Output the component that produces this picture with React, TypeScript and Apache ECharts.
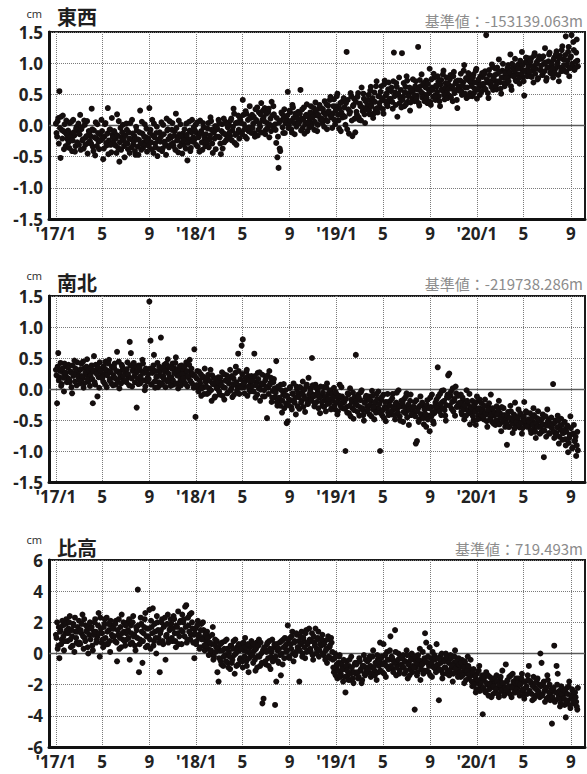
import React, { useEffect, useRef } from "react";
import * as echarts from "echarts";

// days are counted from 2017-01-01; set A observed every STEP_DAYS days from day 0,
// set B every STEP_DAYS days from day B_OFFSET_DAYS
const STEP_DAYS = 3;
const B_OFFSET_DAYS = 1.5;
const X_MIN_DAY = -18;
const X_MAX_DAY = 1376;
const X_TICK_DAYS = [0, 120, 243, 365, 485, 608, 730, 850, 973, 1095, 1216, 1339];
const X_TICK_LABELS = ["'17/1", "5", "9", "'18/1", "5", "9", "'19/1", "5", "9", "'20/1", "5", "9"];

// 東西 (cm)
const EW_A = [
  0.03, -0.18, 0.12, 0.55, -0.52, -0.07, 0.16, -0.38, -0.11, 0.08,
  -0.22, -0.27, 0.04, -0.13, -0.41, 0.09, -0.16, -0.33, -0.02, -0.09,
  -0.31, 0.17, -0.06, -0.24, -0.37, 0.01, -0.19, 0.07, -0.28, -0.12,
  -0.17, 0.27, -0.34, -0.08, -0.48, -0.21, 0.02, -0.26, -0.14, -0.23,
  -0.09, -0.54, -0.18, 0.04, -0.32, 0.28, -0.24, -0.06, -0.43, -0.15,
  -0.27, -0.12, -0.21, 0.18, -0.36, -0.58, -0.04, -0.19, 0.01, -0.33,
  -0.16, 0.03, -0.29, -0.11, -0.44, -0.22, 0.09, -0.31, -0.17, -0.47,
  -0.08, -0.34, -0.23, 0.24, -0.39, -0.13, -0.27, 0.02, -0.19, -0.42,
  -0.21, 0.28, -0.07, -0.38, -0.16, 0.03, -0.29, -0.12, -0.49, -0.24,
  -0.11, -0.18, -0.41, 0.01, -0.26, -0.32, 0.11, -0.06, -0.35, -0.17,
  -0.19, 0.04, -0.33, -0.09, 0.19, -0.24, -0.43, -0.14, 0.02, -0.28,
  -0.13, -0.31, -0.18, 0.03, -0.56, -0.22, -0.08, -0.36, 0.09, -0.19,
  -0.23, 0.01, -0.12, -0.34, -0.17, 0.08, -0.09, -0.39, -0.03, -0.21,
  -0.14, -0.29, 0.04, -0.22, 0.13, -0.07, -0.44, -0.11, -0.01, -0.18,
  -0.06, 0.09, -0.19, -0.46, 0.02, -0.12, -0.27, 0.06, -0.16, -0.03,
  0.01, -0.17, 0.11, -0.08, 0.27, -0.28, 0.04, -0.13, 0.16, -0.21,
  0.08, -0.11, 0.41, 0.02, -0.18, 0.19, -0.04, -0.09, 0.31, 0.12,
  0.17, 0.03, -0.12, 0.26, 0.07, -0.16, 0.21, -0.02, 0.36, 0.09,
  0.13, 0.28, -0.07, 0.04, 0.22, -0.19, 0.11, 0.38, -0.01, 0.18,
  0.02, -0.28, -0.51, -0.68, -0.37, 0.08, 0.19, -0.12, 0.26, 0.04,
  0.09, 0.54, 0.01, 0.21, -0.06, 0.33, 0.12, -0.14, 0.18, 0.03,
  0.22, 0.06, 0.57, 0.11, -0.04, 0.29, 0.02, 0.17, -0.09, 0.14,
  0.08, 0.31, 0.03, 0.19, -0.07, 0.37, 0.16, 0.01, 0.27, 0.12,
  0.28, 0.04, 0.21, 0.39, 0.09, -0.06, 0.32, 0.18, 0.46, 0.13,
  0.19, 0.42, 0.02, 0.31, 0.51, 0.08, 0.27, -0.09, 0.38, 0.16,
  0.29, 0.01, 1.18, 0.41, -0.13, 0.22, 0.47, -0.17, 0.33, 0.11,
  0.38, 0.17, 0.52, 0.09, 0.31, 0.61, 0.23, 0.43, 0.04, 0.28,
  0.33, 0.49, 0.18, 0.62, 0.37, 0.12, 0.53, 0.26, 0.71, 0.21,
  0.47, 0.29, 0.63, 0.41, 0.19, 0.72, 0.48, 0.33, 0.58, 0.39,
  0.42, 0.61, 0.27, 1.17, 0.53, 0.68, 0.14, 0.49, 0.36, 0.57,
  1.16, 0.46, 0.31, 0.62, 0.79, 0.38, 0.52, 0.24, 0.59, 0.43,
  0.57, 0.39, 0.71, 0.48, 1.26, 0.32, 0.63, 0.82, 0.51, 0.67,
  0.49, 0.72, 0.36, 0.58, 0.91, 0.33, 0.61, 0.46, 0.77, 0.41,
  0.62, 0.79, 0.47, 0.31, 0.73, 0.56, 0.88, 0.42, 0.68, 0.53,
  0.67, 0.48, 0.81, 0.59, 0.39, 0.86, 0.57, 0.71, 0.28, 0.63,
  0.58, 0.83, 0.49, 0.69, 0.97, 0.61, 0.44, 0.73, 0.78, 0.52,
  0.71, 0.47, 0.82, 0.59, 0.88, 0.43, 0.68, 0.62, 0.79, 0.54,
  0.78, 0.61, 0.87, 1.45, 0.69, 0.44, 0.81, 0.66, 0.98, 0.57,
  0.72, 0.91, 0.58, 0.83, 1.06, 0.69, 0.51, 0.88, 0.77, 0.63,
  0.87, 0.68, 0.97, 0.79, 1.14, 0.57, 0.92, 0.81, 1.07, 0.71,
  0.82, 0.98, 0.67, 0.91, 1.18, 0.78, 0.48, 1.01, 0.86, 1.08,
  0.97, 0.79, 1.08, 0.88, 0.69, 1.16, 0.91, 1.02, 0.76, 1.11,
  0.89, 1.07, 0.81, 0.99, 1.24, 0.72, 0.93, 1.03, 1.17, 0.84,
  0.98, 0.77, 1.09, 0.91, 1.19, 1.01, 0.71, 1.12, 0.87, 1.27,
  1.06, 0.88, 1.43, 0.97, 1.18, 0.79, 1.09, 1.45, 0.94, 1.21,
  0.92, 1.17, 1.04,
];
const EW_B = [
  -0.12, 0.07, -0.29, -0.04, 0.14, -0.21, -0.09, 0.02, -0.33, -0.15,
  -0.08, -0.36, -0.19, 0.06, -0.24, -0.11, -0.42, -0.05, -0.27, 0.03,
  -0.14, -0.39, -0.03, -0.22, 0.08, -0.31, -0.17, -0.45, -0.09, -0.25,
  -0.29, -0.06, -0.41, -0.19, 0.05, -0.33, -0.12, -0.38, -0.24, 0.09,
  -0.21, -0.37, 0.02, -0.28, -0.13, -0.46, -0.07, -0.31, 0.12, -0.19,
  -0.09, -0.32, -0.44, -0.16, 0.07, -0.27, -0.39, -0.11, -0.23, -0.51,
  -0.28, -0.07, -0.38, -0.21, 0.04, -0.35, -0.13, -0.26, -0.41, -0.02,
  -0.22, -0.47, -0.11, -0.29, 0.06, -0.36, -0.18, -0.31, -0.05, -0.25,
  -0.33, -0.12, -0.27, 0.09, -0.44, -0.19, -0.35, -0.02, -0.23, -0.38,
  -0.26, 0.05, -0.37, -0.14, -0.29, -0.47, -0.08, -0.22, 0.07, -0.31,
  -0.07, -0.28, -0.16, -0.39, -0.04, -0.21, 0.08, -0.33, -0.18, -0.45,
  -0.24, -0.06, -0.37, -0.15, -0.28, 0.06, -0.41, -0.11, -0.26, -0.03,
  -0.08, -0.31, 0.05, -0.19, -0.42, -0.12, -0.27, 0.04, -0.15, -0.33,
  -0.26, -0.05, -0.35, -0.16, 0.07, -0.29, -0.09, -0.21, -0.38, -0.02,
  -0.18, 0.04, -0.29, -0.09, -0.37, 0.11, -0.14, -0.24, 0.01, -0.21,
  -0.11, 0.08, -0.24, -0.02, 0.19, -0.15, -0.31, 0.05, -0.07, 0.13,
  0.04, -0.14, 0.17, -0.06, 0.23, -0.21, 0.09, -0.03, 0.14, -0.12,
  -0.04, 0.14, -0.18, 0.09, 0.29, -0.07, 0.03, 0.18, -0.11, 0.24,
  0.07, -0.14, 0.19, -0.04, 0.27, 0.01, -0.09, 0.16, 0.31, -0.06,
  -0.07, 0.12, -0.18, 0.05, -0.41, 0.21, -0.03, 0.14, -0.12, 0.09,
  0.16, -0.04, 0.24, 0.07, -0.11, 0.29, 0.04, 0.19, -0.02, 0.11,
  0.03, 0.19, -0.08, 0.26, 0.09, -0.13, 0.15, 0.34, 0.05, -0.03,
  0.21, -0.02, 0.13, 0.28, 0.06, 0.24, -0.09, 0.17, 0.33, 0.09,
  0.11, 0.26, -0.02, 0.18, 0.34, 0.07, 0.23, 0.41, 0.14, -0.04,
  0.31, 0.09, 0.24, 0.47, 0.17, -0.05, 0.36, 0.21, 0.13, 0.44,
  0.14, 0.36, -0.06, 0.26, 0.19, 0.52, 0.08, 0.31, 0.43, -0.11,
  0.22, 0.46, 0.13, 0.35, 0.08, 0.29, 0.51, 0.18, 0.39, 0.26,
  0.41, 0.24, 0.56, 0.31, 0.44, 0.19, 0.38, 0.63, 0.28, 0.47,
  0.36, 0.54, 0.44, 0.26, 0.66, 0.39, 0.51, 0.31, 0.69, 0.43,
  0.55, 0.38, 0.71, 0.47, 0.33, 0.62, 0.51, 0.77, 0.44, 0.29,
  0.41, 0.68, 0.53, 0.34, 0.72, 0.47, 0.61, 0.37, 0.55, 0.74,
  0.49, 0.63, 0.42, 0.58, 0.36, 0.73, 0.54, 0.45, 0.68, 0.39,
  0.61, 0.44, 0.67, 0.52, 0.38, 0.74, 0.57, 0.83, 0.48, 0.64,
  0.54, 0.71, 0.39, 0.66, 0.58, 0.82, 0.49, 0.61, 0.77, 0.44,
  0.59, 0.74, 0.45, 0.63, 0.79, 0.52, 0.68, 0.41, 0.72, 0.56,
  0.72, 0.55, 0.64, 0.88, 0.51, 0.76, 0.61, 0.84, 0.47, 0.69,
  0.63, 0.77, 0.52, 0.69, 0.91, 0.58, 0.74, 0.49, 0.66, 0.84,
  0.67, 0.83, 0.58, 0.74, 0.52, 0.89, 0.71, 0.62, 0.94, 0.76,
  0.81, 0.64, 0.93, 0.71, 0.86, 0.59, 0.77, 0.99, 0.68, 0.84,
  0.76, 0.92, 0.71, 0.85, 0.63, 0.99, 0.79, 0.88, 0.73, 0.95,
  0.91, 0.76, 1.04, 0.83, 0.97, 0.71, 0.88, 1.09, 0.79, 0.94,
  0.86, 1.03, 0.78, 0.95, 1.12, 0.83, 0.99, 0.74, 1.06, 0.89,
  0.96, 0.81, 1.11, 0.87, 1.01, 0.76, 0.93, 1.14, 0.85, 0.99,
  0.91, 1.06, 0.84, 1.14, 0.96, 0.81, 1.08, 0.93, 1.21, 0.88,
  0.97, 1.13, 0.86, 1.04, 1.26, 0.92, 1.11, 0.99, 1.34, 0.89,
  1.02, 1.38, 0.95,
];

// 南北 (cm)
const NS_A = [
  0.31, -0.23, 0.58, 0.19, 0.42, 0.08, 0.27, -0.04, 0.22, 0.37,
  0.18, 0.39, 0.11, 0.28, -0.07, 0.21, 0.46, 0.33, 0.06, 0.24,
  0.29, 0.09, 0.41, 0.17, 0.02, 0.34, 0.23, 0.48, 0.12, 0.26,
  0.21, 0.38, -0.23, 0.53, 0.07, 0.31, -0.12, 0.19, 0.43, 0.27,
  0.33, 0.12, 0.24, 0.44, 0.03, 0.29, 0.47, 0.16, 0.09, 0.36,
  0.22, 0.41, 0.07, 0.6, 0.28, 0.01, 0.18, 0.39, 0.31, 0.13,
  0.27, 0.11, 0.43, 0.19, 0.76, 0.58, 0.04, 0.32, 0.21, 0.37,
  -0.3, 0.17, 0.38, 0.09, 0.29, 0.47, 0.14, -0.02, 0.33, 0.12,
  0.24, 1.41, 0.78, 0.08, 0.31, 0.55, 0.02, 0.19, 0.42, 0.11,
  0.28, 0.83, 0.09, 0.21, 0.39, 0.03, 0.32, 0.48, 0.17, 0.13,
  0.19, 0.41, 0.07, 0.33, 0.51, 0.22, 0.01, 0.29, 0.14, 0.38,
  0.31, 0.12, 0.24, 0.43, 0.04, 0.18, 0.47, 0.27, 0.09, 0.22,
  0.64, -0.45, 0.17, 0.02, 0.28, 0.09, -0.11, 0.21, 0.03, 0.33,
  0.12, -0.08, 0.23, 0.01, 0.31, -0.19, 0.08, 0.18, -0.12, 0.04,
  0.02, 0.19, -0.09, 0.11, 0.27, 0.03, -0.17, 0.14, 0.22, -0.06,
  0.09, 0.31, 0.01, -0.13, 0.17, 0.07, 0.36, -0.03, 0.57, -0.08,
  0.16, 0.7, 0.8, 0.03, 0.12, 0.28, -0.11, 0.21, -0.02, 0.09,
  0.04, 0.18, 0.57, -0.14, 0.11, 0.26, 0.01, -0.19, 0.07, 0.23,
  0.08, -0.12, 0.17, -0.47, 0.02, 0.29, 0.1, -0.21, -0.03, 0.16,
  -0.13, 0.45, -0.27, 0.01, -0.18, 0.07, -0.38, -0.09, -0.31, -0.02,
  -0.55, -0.52, -0.17, 0.03, -0.29, -0.08, 0.09, -0.22, -0.41, -0.01,
  -0.07, -0.32, 0.02, -0.19, 0.12, -0.11, -0.37, 0.04, -0.24, 0.18,
  -0.16, 0.01, 0.5, -0.09, -0.28, 0.07, -0.21, -0.03, -0.13, -0.39,
  -0.11, -0.27, 0.03, -0.18, -0.36, 0.09, -0.08, -0.23, -0.02, -0.31,
  -0.19, 0.02, -0.33, -0.08, -0.41, -0.16, 0.07, -0.28, -0.12, -0.22,
  -0.21, -1.0, -0.29, -0.07, -0.39, 0.01, -0.17, -0.31, -0.48, -0.13,
  0.55, -0.26, -0.09, -0.43, -0.18, -0.02, -0.34, -0.51, -0.21, -0.11,
  -0.28, -0.12, -0.41, -0.19, -0.03, -0.33, -0.49, -0.23, -0.08, -0.31,
  -0.32, -1.0, -0.18, -0.43, -0.09, -0.29, -0.52, -0.21, -0.38, -0.27,
  -0.19, -0.41, -0.08, -0.33, -0.49, -0.22, -0.31, -0.02, -0.44, -0.28,
  -0.27, -0.53, -0.16, -0.39, -0.07, -0.34, -0.58, -0.19, -0.42, -0.29,
  -0.38, -0.21, -0.88, -0.84, -0.31, -0.49, -0.12, -0.41, -0.27, -0.57,
  -0.33, -0.61, -0.18, -0.43, -0.68, -0.29, -0.09, -0.52, -0.39, -0.22,
  -0.17, 0.35, -0.31, -0.08, -0.42, -0.21, -0.02, -0.34, -0.51, -0.13,
  0.22, 0.25, -0.11, -0.32, 0.01, -0.19, -0.43, -0.07, -0.28, -0.23,
  -0.29, -0.09, -0.41, -0.18, -0.49, -0.33, -0.02, -0.24, -0.39, -0.57,
  -0.38, -0.19, -0.51, -0.28, -0.58, -0.12, -0.42, -0.31, -0.47, -0.23,
  -0.32, -0.49, -0.17, -0.41, -0.61, -0.29, -0.38, -0.09, -0.53, -0.36,
  -0.43, -0.58, -0.28, -0.51, -0.19, -0.39, -0.68, -0.47, -0.31, -0.44,
  -0.49, -0.9, -0.37, -0.61, -0.27, -0.52, -0.71, -0.41, -0.22, -0.58,
  -0.51, -0.33, -0.62, -0.41, -0.72, -0.48, -0.21, -0.57, -0.38, -0.53,
  -0.59, -0.39, -0.71, -0.52, -0.31, -0.63, -0.79, -0.47, -0.36, -0.61,
  -0.52, -0.69, -0.41, -1.1, -0.58, -0.77, -0.33, -0.49, -0.72, -0.61,
  -0.63, 0.08, -0.79, -0.51, -0.71, -0.43, -0.88, -0.59, -0.48, -0.82,
  -0.71, -0.53, -0.91, -0.62, -1.02, -0.79, -0.44, -0.73, -0.94, -0.58,
  -0.83, -1.08, -0.69,
];
const NS_B = [
  0.22, 0.36, 0.14, 0.29, 0.05, 0.33, 0.18, 0.41, 0.26, 0.11,
  0.34, 0.15, 0.27, 0.03, 0.38, 0.24, 0.12, 0.31, 0.43, 0.19,
  0.14, 0.32, 0.21, 0.44, 0.09, 0.27, 0.36, 0.16, 0.31, 0.05,
  0.33, 0.16, 0.28, 0.11, 0.39, 0.24, 0.35, 0.02, 0.29, 0.18,
  0.19, 0.37, 0.08, 0.31, 0.22, 0.41, 0.14, 0.27, 0.35, 0.06,
  0.34, 0.17, 0.29, 0.12, 0.44, 0.24, 0.09, 0.36, 0.21, 0.31,
  0.13, 0.32, 0.24, 0.06, 0.38, 0.17, 0.29, 0.42, 0.11, 0.26,
  0.29, 0.08, 0.35, 0.21, 0.13, 0.41, 0.26, 0.04, 0.31, 0.18,
  0.16, 0.33, 0.07, 0.26, 0.38, 0.12, 0.29, 0.21, 0.03, 0.36,
  0.21, 0.07, 0.34, 0.16, 0.28, 0.41, 0.12, 0.25, 0.36, 0.05,
  0.33, 0.14, 0.26, 0.42, 0.09, 0.31, 0.21, 0.37, 0.06, 0.24,
  0.17, 0.36, 0.08, 0.29, 0.21, 0.39, 0.13, 0.33, 0.24, 0.02,
  0.21, 0.06, 0.29, -0.04, 0.14, 0.24, 0.01, 0.19, -0.08, 0.12,
  0.04, 0.19, -0.06, 0.13, -0.02, 0.22, 0.09, -0.14, 0.16, 0.01,
  0.11, -0.04, 0.18, 0.06, -0.11, 0.24, 0.02, 0.13, -0.07, 0.19,
  0.17, -0.02, 0.21, 0.08, -0.09, 0.26, 0.11, 0.02, 0.29, 0.05,
  0.02, 0.24, 0.09, -0.07, 0.18, 0.31, 0.04, 0.14, -0.04, 0.21,
  0.13, -0.04, 0.21, 0.06, -0.09, 0.16, 0.27, -0.01, 0.09, -0.12,
  -0.02, 0.14, 0.03, 0.22, -0.08, 0.07, 0.18, -0.14, 0.11, 0.01,
  -0.06, -0.21, 0.04, -0.14, -0.27, -0.02, -0.19, 0.08, -0.11, -0.24,
  -0.11, -0.26, 0.01, -0.18, -0.33, -0.07, -0.21, -0.14, 0.04, -0.28,
  -0.13, 0.03, -0.22, -0.06, -0.29, -0.01, -0.16, 0.07, -0.24, -0.09,
  -0.04, -0.19, 0.06, -0.12, -0.24, 0.02, -0.08, -0.31, -0.14, 0.04,
  -0.21, -0.06, -0.29, -0.13, 0.02, -0.24, -0.16, -0.04, -0.33, -0.09,
  -0.14, -0.27, -0.05, -0.22, -0.36, -0.11, -0.24, 0.03, -0.31, -0.17,
  -0.32, -0.16, -0.38, -0.09, -0.27, -0.44, -0.21, -0.06, -0.34, -0.24,
  -0.19, -0.37, -0.13, -0.29, -0.05, -0.31, -0.42, -0.22, -0.14, -0.36,
  -0.33, -0.17, -0.26, -0.44, -0.11, -0.29, -0.21, -0.38, -0.16, -0.04,
  -0.24, -0.39, -0.13, -0.34, -0.47, -0.21, -0.31, -0.08, -0.42, -0.27,
  -0.36, -0.15, -0.29, -0.42, -0.24, -0.06, -0.38, -0.27, -0.51, -0.19,
  -0.22, -0.37, -0.29, -0.12, -0.46, -0.25, -0.33, -0.09, -0.41, -0.31,
  -0.29, -0.44, -0.18, -0.36, -0.53, -0.27, -0.41, -0.22, -0.47, -0.33,
  -0.41, -0.26, -0.49, -0.31, -0.14, -0.44, -0.37, -0.56, -0.28, -0.35,
  -0.29, -0.12, -0.36, -0.24, -0.03, -0.31, -0.19, -0.43, -0.26, -0.09,
  -0.14, -0.27, -0.04, -0.21, -0.36, -0.16, 0.04, -0.29, -0.11, -0.24,
  -0.22, -0.37, -0.14, -0.31, -0.26, -0.43, -0.19, -0.34, -0.08, -0.29,
  -0.31, -0.44, -0.26, -0.36, -0.21, -0.49, -0.33, -0.17, -0.41, -0.37,
  -0.44, -0.27, -0.39, -0.52, -0.34, -0.23, -0.47, -0.41, -0.31, -0.56,
  -0.38, -0.51, -0.41, -0.34, -0.57, -0.46, -0.29, -0.53, -0.42, -0.61,
  -0.55, -0.43, -0.61, -0.47, -0.36, -0.56, -0.49, -0.64, -0.44, -0.53,
  -0.46, -0.58, -0.39, -0.54, -0.63, -0.44, -0.51, -0.36, -0.61, -0.49,
  -0.53, -0.66, -0.47, -0.58, -0.42, -0.69, -0.55, -0.61, -0.49, -0.72,
  -0.61, -0.48, -0.57, -0.67, -0.44, -0.59, -0.53, -0.71, -0.56, -0.46,
  -0.57, -0.69, -0.54, -0.74, -0.62, -0.51, -0.77, -0.66, -0.58, -0.71,
  -0.66, -0.81, -0.69, -0.59, -0.87, -0.74, -0.63, -0.96, -0.72, -0.84,
  -0.77, -0.91, -0.99,
];

// 比高 (cm)
const UD_A = [
  1.2, 2.0, 0.5, -0.3, 1.5, 0.9, 1.8, 0.2, 1.3, 2.2,
  0.8, 1.6, 2.4, 0.4, 1.1, 1.9, 0.1, 1.4, 0.7, 1.7,
  2.1, 0.6, 1.3, 2.5, 0.3, 1.0, 1.8, 1.5, 0.0, 1.2,
  0.9, 1.7, 0.2, 1.4, 2.2, 0.7, 1.1, 2.6, -0.2, 1.6,
  1.3, 0.4, 1.9, 1.0, 2.3, 0.6, 1.5, 0.1, 1.8, 1.1,
  1.6, 0.8, 2.1, -0.5, 1.2, 0.3, 1.7, 2.5, 0.9, 1.4,
  0.5, 1.3, 2.0, 1.0, -0.4, 1.8, 0.7, 2.4, 1.2, 0.2,
  1.5, 4.1, -1.2, 0.9, 1.9, -0.6, 1.3, 2.2, 0.4, 1.6,
  1.1, 2.8, 0.3, 1.7, 2.9, 0.8, 1.4, 0.0, 2.0, 1.0,
  -1.2, 1.5, 2.2, 0.6, 1.8, -0.4, 1.2, 2.5, 0.9, 1.6,
  1.9, 0.8, 2.4, 1.3, 0.4, 1.7, 2.7, 1.1, 2.1, 0.6,
  1.4, 2.2, 3.0, 3.1, 0.9, 1.8, 2.5, 1.2, 2.0, 0.7,
  -0.3, 1.6, 0.8, 2.1, 1.2, 0.4, 1.9, 1.0, 1.5, 0.2,
  0.8, 1.4, 0.3, 1.1, 0.0, 0.6, 1.7, -0.2, 0.9, 0.4,
  -1.2, -1.8, 0.2, -0.5, 0.7, -0.8, 0.3, -0.1, 0.9, -0.6,
  0.1, -1.0, 0.5, -0.4, 0.8, -1.3, 0.0, 0.4, -0.7, 0.2,
  -0.3, 0.6, -0.9, 0.2, 1.0, -0.5, 0.1, -1.2, 0.4, -0.1,
  0.5, -0.6, 0.2, -1.1, 0.7, -0.2, 0.9, -0.8, 0.0, -3.2,
  -2.9, 0.3, -0.7, 0.6, -0.3, 0.8, -1.0, 0.1, -0.5, 0.4,
  -3.3, -1.8, 0.2, -0.6, 0.7, -1.4, 0.0, 0.9, -0.3, 0.5,
  0.6, 1.8, -0.2, 1.0, 0.3, 1.4, -0.5, 0.8, 0.1, 1.2,
  0.4, -1.8, 1.1, 1.4, 0.0, 0.8, -0.3, 1.5, 0.6, 0.2,
  0.9, 0.1, 1.3, -0.4, 0.7, 1.6, 0.3, 1.0, -0.2, 0.6,
  0.5, 1.2, -0.1, 0.8, 0.2, -0.6, 1.1, 0.4, -0.3, 0.7,
  -0.4, -1.2, 0.0, -0.9, -1.6, -0.6, -0.1, -1.3, -0.8, -1.8,
  -1.0, -2.5, -0.5, -1.4, -0.8, -1.7, -0.2, -1.2, -1.9, -0.7,
  -1.3, -0.6, -1.6, -0.3, -1.1, -1.9, -0.8, -0.1, -1.4, -0.9,
  -0.5, -1.2, -0.2, -1.5, -0.9, 0.2, -1.1, -0.6, -1.7, -0.4,
  -0.8, 0.7, -0.3, -1.2, 0.6, -0.6, -1.5, 0.1, -0.9, -0.4,
  1.1, -0.2, -1.0, -0.5, 1.5, -1.4, -0.7, 0.0, -1.1, -0.3,
  -0.8, -0.1, -1.3, -0.5, 0.2, -1.6, -0.6, -1.0, -0.2, -1.2,
  -0.4, -3.6, -0.9, -1.4, -0.1, -0.7, -1.7, -0.5, 0.1, -1.1,
  1.3, 0.7, -0.6, -1.2, 0.4, -0.3, -1.5, -0.8, -0.1, -1.0,
  0.6, -0.7, -3.0, -0.2, -1.1, -1.6, -0.4, -0.9, 0.0, -1.3,
  -0.5, -1.4, -0.1, -0.9, -1.8, -0.6, 0.2, -1.2, -0.8, -0.3,
  -0.9, -1.5, -0.4, -1.2, -1.9, -0.7, -1.3, -0.2, -1.6, -1.0,
  -1.4, -2.1, -1.0, -1.8, -2.5, -1.3, -1.9, -0.8, -2.2, -1.6,
  -3.9, -1.7, -2.4, -1.2, -2.0, -2.7, -1.5, -2.2, -1.8, -2.6,
  -1.9, -2.5, -1.4, -2.2, -2.8, -1.7, -2.3, -1.1, -2.1, -2.6,
  -0.7, -1.8, -2.4, -1.5, -2.1, -2.8, -1.3, -2.0, -2.5, -1.6,
  -2.2, -1.6, -2.7, -1.9, -1.3, -2.4, -2.9, -1.8, -2.1, -1.4,
  -0.8, -2.5, -1.9, -3.0, -1.5, -2.2, -2.7, -1.7, -2.4, -2.0,
  0.0, -0.6, -2.6, -1.8, -3.1, -2.2, -1.4, -2.8, -2.0, -2.5,
  -4.5, -2.4, 0.5, -3.0, -0.8, -1.3, -2.7, -3.4, -2.1, -2.9,
  -2.6, -3.3, -4.1, -2.2, -3.0, -1.8, -3.5, -2.8, -2.4, -3.2,
  -2.5, -3.1, -3.6,
];
const UD_B = [
  1.0, 0.3, 1.7, 1.4, 0.6, 2.1, 1.1, 0.8, 1.9, 1.5,
  1.3, 2.0, 0.9, 1.5, 0.5, 1.8, 2.3, 1.0, 1.4, 0.6,
  0.7, 1.5, 1.9, 1.1, 2.2, 0.8, 1.4, 0.4, 1.7, 2.0,
  1.6, 0.5, 1.2, 2.0, 1.4, 0.9, 1.8, 1.3, 2.3, 0.7,
  0.9, 1.7, 2.2, 0.6, 1.4, 1.9, 0.8, 2.1, 1.2, 1.6,
  1.1, 1.9, 0.7, 1.5, 2.2, 1.0, 0.4, 1.3, 2.0, 0.8,
  1.8, 0.9, 1.5, 2.2, 0.6, 1.3, 2.0, 1.1, 0.5, 1.7,
  1.0, 1.8, 0.6, 2.3, 1.4, 0.8, 1.7, 2.6, 1.1, 0.5,
  1.6, 0.9, 2.1, 1.3, 0.5, 1.9, 1.0, 2.4, 1.5, 0.7,
  1.3, 2.0, 0.8, 1.7, 2.3, 1.1, 1.9, 0.7, 1.5, 2.2,
  1.0, 1.6, 2.2, 0.8, 1.8, 1.3, 0.6, 2.0, 1.5, 2.5,
  2.0, 1.1, 1.7, 0.7, 2.3, 1.4, 0.9, 2.6, 1.6, 1.2,
  1.3, 0.6, 1.8, 1.1, 0.3, 1.5, 0.9, 2.0, 0.5, 1.2,
  0.5, 1.0, -0.1, 0.7, 0.2, 1.2, -0.4, 0.6, 0.1, 0.8,
  0.4, -0.3, 0.6, -0.7, 0.2, -0.2, 0.8, -0.5, 0.3, -0.9,
  -0.2, 0.5, -0.6, 0.3, -0.1, 0.9, -0.8, 0.2, 0.6, -0.4,
  0.3, -0.5, 0.7, -0.2, 0.4, -0.8, 0.6, -0.3, 0.1, 0.8,
  -0.1, 0.6, -0.4, 0.3, -0.9, 0.5, -0.2, 0.7, -0.6, 0.2,
  0.4, -0.5, 0.1, 0.7, -0.8, 0.3, -0.2, 0.9, -0.4, 0.6,
  -0.2, 0.6, -0.5, 0.3, -0.1, 0.8, -0.7, 0.4, 1.0, 0.1,
  0.2, 0.9, -0.3, 0.6, 1.1, 0.0, 0.7, -0.1, 1.3, 0.4,
  0.8, 0.2, 0.6, -0.2, 1.0, 0.4, 1.3, 0.1, 0.7, 1.6,
  0.3, 0.8, -0.1, 1.1, 0.5, 0.0, 0.9, 1.4, 0.2, 0.6,
  0.9, 0.0, 0.6, -0.4, 0.3, 0.9, -0.2, 0.5, 1.0, 0.1,
  -0.9, -0.3, -1.4, -0.7, -1.1, -0.2, -1.5, -0.6, -1.0, -0.4,
  -1.5, -0.8, -1.1, -1.7, -0.4, -1.3, -0.9, -1.6, -1.2, -0.6,
  -0.7, -1.2, -1.5, -0.5, -1.0, -1.7, -0.8, -1.3, -0.4, -1.1,
  -1.0, -0.4, -0.8, -1.3, -0.2, -0.9, -1.4, -0.6, -0.1, -1.2,
  -0.5, -1.1, -0.2, -0.7, -1.3, -0.1, -0.8, -0.4, -1.0, 0.2,
  -0.8, -0.3, -1.2, -0.6, 0.1, -0.9, -0.4, -1.3, -0.2, -0.7,
  -0.3, -0.9, -0.5, -1.1, -0.1, -0.7, -1.4, -0.4, 0.0, -0.8,
  -0.9, -0.2, -0.6, -1.2, -0.4, 0.3, -1.0, -0.7, -1.3, -0.3,
  -0.5, -1.1, -0.2, -0.8, -1.4, -0.6, 0.1, -0.9, -0.4, -1.2,
  -0.8, -0.3, -1.0, -0.6, 0.0, -1.3, -0.5, -0.9, -0.2, -1.1,
  -0.6, -1.1, -0.3, -0.8, -1.3, -0.2, -1.0, -0.5, -1.5, -0.7,
  -1.2, -0.6, -1.4, -0.9, -0.5, -1.7, -1.1, -0.8, -1.3, -0.4,
  -1.8, -1.2, -2.0, -1.5, -2.3, -1.7, -1.1, -2.4, -1.9, -1.4,
  -2.2, -1.5, -2.5, -1.9, -1.4, -2.3, -2.0, -2.8, -1.6, -2.1,
  -1.6, -2.3, -1.8, -2.6, -2.0, -1.5, -2.4, -1.9, -2.7, -2.2,
  -2.3, -1.7, -2.1, -2.6, -1.4, -2.2, -1.8, -2.5, -1.9, -2.3,
  -1.9, -2.5, -2.0, -1.6, -2.3, -2.7, -1.8, -2.2, -2.6, -1.7,
  -2.4, -1.8, -2.6, -2.1, -2.9, -1.9, -2.3, -1.6, -2.5, -2.8,
  -2.1, -2.7, -1.9, -2.4, -2.2, -2.9, -1.7, -2.5, -3.0, -2.3,
  -2.8, -2.2, -3.1, -2.5, -2.0, -2.9, -2.4, -3.2, -2.6, -2.3,
  -2.9, -2.4, -3.1, -2.6, -2.1, -3.3, -2.7, -2.3, -3.0, -2.5,
  -2.8, -3.4, -2.2,
];

const TITLES = ["東西", "南北", "比高"];
const REF_TEXTS = ["基準値：-153139.063m", "基準値：-219738.286m", "基準値：719.493m"];
const Y_MIN = [-1.5, -1.5, -6];
const Y_MAX = [1.5, 1.5, 6];
const Y_STEP = [0.5, 0.5, 2];
const Y_DECIMALS = [1, 1, 0];
const SERIES_A = [EW_A, NS_A, UD_A];
const SERIES_B = [EW_B, NS_B, UD_B];

// layout (px)
const GRID_LEFT = 49;
const GRID_RIGHT = 2;
const GRID_TOPS = [32, 296, 560];
const GRID_HEIGHTS = [187, 186, 187];
const TITLE_Y = [16, 282, 547];
const CM_Y = [13, 275, 539];
const REF_Y = [20, 283, 548];

const DIGIT_FONT = '"Noto Sans", "DejaVu Sans", sans-serif';
const CJK_FONT = '"Noto Sans CJK JP", "Noto Sans CJK SC", sans-serif';

export default function App() {
  const ref = useRef<HTMLDivElement>(null);

  useEffect(() => {
    if (!ref.current) return;
    const chart = echarts.init(ref.current, undefined, { renderer: "svg" });
    const idx = [0, 1, 2];

    const graphics: any[] = [];
    idx.forEach((i) => {
      graphics.push({
        type: "text",
        x: 57,
        y: TITLE_Y[i],
        style: {
          text: TITLES[i],
          fill: "#1e1e1e",
          font: `bold 20px ${CJK_FONT}`,
          textAlign: "left",
          textVerticalAlign: "middle",
        },
      });
      graphics.push({
        type: "text",
        x: 42,
        y: CM_Y[i],
        style: {
          text: "cm",
          fill: "#333",
          font: `11px ${DIGIT_FONT}`,
          textAlign: "right",
          textVerticalAlign: "middle",
        },
      });
      graphics.push({
        type: "text",
        x: 583,
        y: REF_Y[i],
        style: {
          text: REF_TEXTS[i],
          fill: "#8c8c8c",
          font: `15px ${CJK_FONT}`,
          textAlign: "right",
          textVerticalAlign: "middle",
        },
      });
    });

    const option: any = {
      animation: false,
      backgroundColor: "#ffffff",
      grid: idx.map((i) => ({
        left: GRID_LEFT,
        right: GRID_RIGHT,
        top: GRID_TOPS[i],
        height: GRID_HEIGHTS[i],
        show: true,
        borderColor: "#1a1a1a",
        borderWidth: 2,
        backgroundColor: "transparent",
      })),
      xAxis: idx.map((i) => ({
        type: "value",
        gridIndex: i,
        min: X_MIN_DAY,
        max: X_MAX_DAY,
        axisLine: { show: true, onZero: false, lineStyle: { color: "#111", width: 3 } },
        axisTick: { show: false, customValues: X_TICK_DAYS },
        axisLabel: {
          customValues: X_TICK_DAYS,
          formatter: (v: number) => {
            const k = X_TICK_DAYS.indexOf(v);
            return k >= 0 ? X_TICK_LABELS[k] : "";
          },
          color: "#222",
          fontSize: 17,
          fontWeight: "bold",
          fontFamily: DIGIT_FONT,
          lineHeight: 17,
          margin: 6,
        },
        splitLine: { show: true, lineStyle: { type: "dotted", color: "#7a7a7a", width: 1 } },
      })),
      yAxis: idx.map((i) => ({
        type: "value",
        gridIndex: i,
        min: Y_MIN[i],
        max: Y_MAX[i],
        interval: Y_STEP[i],
        axisLine: { show: true, onZero: false, lineStyle: { color: "#111", width: 3 } },
        axisTick: { show: false },
        axisLabel: {
          formatter: (v: number) => v.toFixed(Y_DECIMALS[i]),
          color: "#222",
          fontSize: 17,
          fontWeight: "bold",
          fontFamily: DIGIT_FONT,
          lineHeight: 14,
          margin: 6,
        },
        splitLine: { show: true, lineStyle: { type: "dotted", color: "#7a7a7a", width: 1 } },
      })),
      graphic: graphics,
      series: idx.map((i) => ({
        type: "scatter",
        xAxisIndex: i,
        yAxisIndex: i,
        symbol: "circle",
        symbolSize: 6,
        itemStyle: { color: "#140e0e", opacity: 1 },
        data: [
          ...SERIES_A[i].map((v, j) => [j * STEP_DAYS, v]),
          ...SERIES_B[i].map((v, j) => [B_OFFSET_DAYS + j * STEP_DAYS, v]),
        ],
        markLine: {
          silent: true,
          symbol: ["none", "none"],
          label: { show: false },
          lineStyle: { type: "solid", color: "#5a5a5a", width: 1.3 },
          data: [{ yAxis: 0 }],
          z: 1,
        },
        z: 3,
      })),
    };

    chart.setOption(option);
    return () => chart.dispose();
  }, []);

  return (
    <div
      ref={ref}
      style={{ position: "fixed", left: 0, top: 0, width: 587, height: 774, background: "#fff" }}
    />
  );
}
